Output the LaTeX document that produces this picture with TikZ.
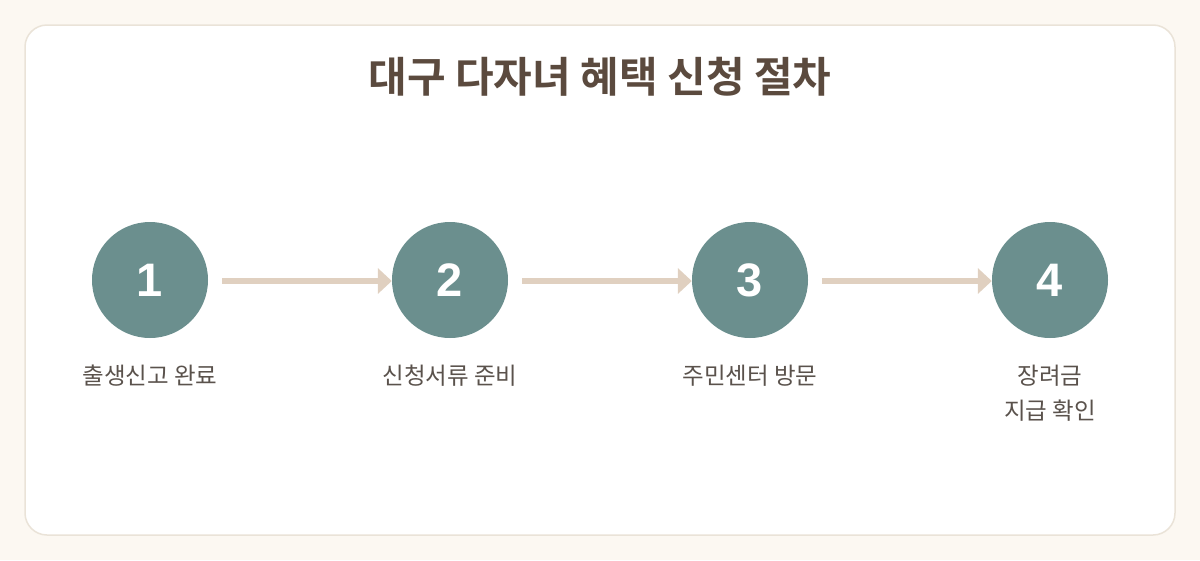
\documentclass[tikz,border=0pt]{standalone}
\usepackage{fontspec}
\newfontfamily\krfont{Noto Sans CJK KR}
\newfontfamily\krbold{Noto Sans CJK KR Bold}
\newfontfamily\numfont{Liberation Sans}
\usetikzlibrary{arrows.meta}
\definecolor{bgcol}{HTML}{FCF8F2}
\definecolor{framecol}{HTML}{EAE3D8}
\definecolor{titlecol}{HTML}{5B4A3E}
\definecolor{labelcol}{HTML}{5A524C}
\definecolor{circcol}{HTML}{6B8F8E}
\definecolor{arrcol}{HTML}{E0D0C0}
\tikzset{
  stepcircle/.style={circle, fill=circcol, minimum size=116pt, inner sep=0pt,
    text=white, font=\numfont\bfseries\fontsize{47}{52}\selectfont},
  steplabel/.style={text=labelcol, font=\krfont\fontsize{23.5}{35}\selectfont, align=center},
  flowarrow/.style={draw=arrcol, line width=6.5pt,
    -{Triangle[length=14pt,width=25pt]}, shorten >=0pt}
}
\begin{document}
\begin{tikzpicture}[x=1pt,y=-1pt]
\fill[bgcol] (0,0) rectangle (1200,560);
\useasboundingbox (0,0) rectangle (1200,560);
\draw[framecol, fill=white, line width=1.5pt, rounded corners=22pt] (25,25) rectangle (1175,535);
\node[text=titlecol, font=\krbold\fontsize{42}{48}\selectfont] (title) at (600,77) {대구 다자녀 혜택 신청 절차};
\node[stepcircle] (c1) at (150,280) {1};
\node[stepcircle] (c2) at (450,280) {2};
\node[stepcircle] (c3) at (750,280) {3};
\node[stepcircle] (c4) at (1050,280) {4};
\coordinate (a1s) at (222,281);
\coordinate (a2s) at (522,281);
\coordinate (a3s) at (822,281);
\draw[flowarrow] (a1s) -- (c2.west |- a1s);
\draw[flowarrow] (a2s) -- (c3.west |- a2s);
\draw[flowarrow] (a3s) -- (c4.west |- a3s);
\node[steplabel] (l1) at (150,376) {출생신고 완료};
\node[steplabel] (l2) at (450,376) {신청서류 준비};
\node[steplabel] (l3) at (750,376) {주민센터 방문};
\node[steplabel] (l4) at (1050,393.5) {장려금\\지급 확인};
\end{tikzpicture}
\end{document}
